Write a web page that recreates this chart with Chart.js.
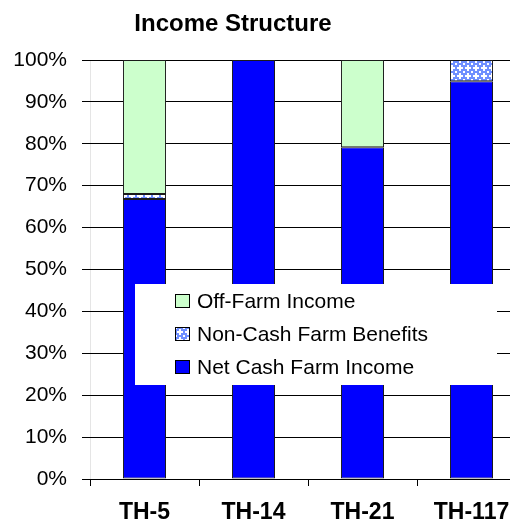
<!DOCTYPE html>
<html>
<head>
<meta charset="utf-8">
<script src="https://cdn.jsdelivr.net/npm/chart.js@4"></script>
<style>
  html, body { margin: 0; padding: 0; background: #fff; overflow: hidden; }
  #wrap { position: relative; width: 530px; height: 529px; }
</style>
</head>
<body>
<div id="wrap"><canvas id="chart"></canvas></div>
<script>
const title = "Income Structure";
const categories = ["TH-5", "TH-14", "TH-21", "TH-117"];
const netCashFarmIncome = [66.8, 100, 79.2, 94.9];
const nonCashFarmBenefits = [1.2, 0, 0, 5.1];
const offFarmIncome = [32, 0, 20.8, 0];
const seriesNames = ["Net Cash Farm Income", "Non-Cash Farm Benefits", "Off-Farm Income"];

// legend box inside the plot
const legendBox = { x: 135, y: 284, w: 362, h: 101 };

// little blue/white confetti tile for the non-cash series
function makePattern() {
  var c = document.createElement("canvas");
  c.width = 8; c.height = 8;
  var p = c.getContext("2d");
  p.fillStyle = "#6f8fff";
  p.fillRect(0, 0, 8, 8);
  p.fillStyle = "#ffffff";
  p.fillRect(3, 1, 2, 6);
  p.fillRect(1, 3, 6, 2);
  p.fillRect(0, 0, 1, 1);
  p.fillRect(7, 7, 1, 1);
  p.fillRect(7, 0, 1, 1);
  p.fillRect(0, 7, 1, 1);
  return p.createPattern(c, "repeat");
}
var confetti = makePattern();

var FONT = "'Liberation Sans', Arial, sans-serif";

var titlePlugin = {
  id: "sheetTitle",
  afterDraw: function (chart) {
    var ctx = chart.ctx;
    ctx.save();
    ctx.font = "bold 24px " + FONT;
    ctx.fillStyle = "#000";
    ctx.textAlign = "center";
    ctx.textBaseline = "alphabetic";
    ctx.fillText(title, 233, 31);
    ctx.restore();
  }
};

// horizontal grid lines as 1px fills in the gaps between bars and around the legend box
var gridPlugin = {
  id: "hGrid",
  afterDraw: function (chart) {
    var ctx = chart.ctx, area = chart.chartArea, y = chart.scales.y;
    var bars = chart.getDatasetMeta(0).data.map(function (b) {
      return [b.x - b.width / 2, b.x + b.width / 2];
    });
    ctx.save();
    ctx.globalAlpha = 1;
    ctx.globalCompositeOperation = "source-over";
    ctx.fillStyle = "#000";
    y.ticks.forEach(function (t) {
      var py = Math.round(y.getPixelForValue(t.value) - 0.5);
      var gaps = [];
      var start = area.left;
      bars.forEach(function (b) {
        gaps.push([start, b[0]]);
        start = b[1];
      });
      gaps.push([start, area.right]);
      var inBox = py > legendBox.y && py < legendBox.y + legendBox.h;
      gaps.forEach(function (g) {
        var a = g[0], b = g[1];
        if (inBox) {
          if (a < legendBox.x && b > legendBox.x) b = legendBox.x;
          else if (a >= legendBox.x && b <= legendBox.x + legendBox.w) return;
          else if (a < legendBox.x + legendBox.w && b > legendBox.x + legendBox.w) a = legendBox.x + legendBox.w;
        }
        a = Math.round(a); b = Math.round(b);
        if (b <= a) return;
        ctx.fillRect(a, py, b - a, 1);
      });
    });
    ctx.restore();
  }
};

var legendPlugin = {
  id: "boxLegend",
  afterDatasetsDraw: function (chart) {
    var ctx = chart.ctx;
    ctx.save();
    ctx.fillStyle = "#fff";
    ctx.fillRect(legendBox.x, legendBox.y, legendBox.w, legendBox.h);
    ctx.font = "21px " + FONT;
    ctx.textBaseline = "middle";
    ctx.textAlign = "left";
    var ds = chart.data.datasets.slice().reverse();
    ds.forEach(function (d, i) {
      var y = 301 + i * 33;
      ctx.fillStyle = "#000";
      ctx.fillRect(175, y - 7, 15, 14);
      ctx.fillStyle = d.backgroundColor;
      ctx.fillRect(176, y - 6, 13, 12);
      ctx.fillStyle = "#000";
      ctx.fillText(d.label, 197, y + 1);
    });
    ctx.restore();
  }
};

var ctx = document.getElementById("chart").getContext("2d");
var myChart = new Chart(ctx, {
  type: "bar",
  data: {
    labels: categories,
    datasets: [
      { label: seriesNames[0], data: netCashFarmIncome, backgroundColor: "#0000ff" },
      { label: seriesNames[1], data: nonCashFarmBenefits, backgroundColor: confetti },
      { label: seriesNames[2], data: offFarmIncome, backgroundColor: "#ccffcc" }
    ]
  },
  options: {
    responsive: true,
    maintainAspectRatio: false,
    animation: false,
    layout: { padding: { top: 60, right: 4, bottom: 2, left: 0 } },
    datasets: {
      bar: {
        barPercentage: 0.395,
        categoryPercentage: 1,
        borderColor: "#1a1a1a",
        borderWidth: 1,
        borderSkipped: false
      }
    },
    plugins: {
      legend: { display: false },
      title: { display: false },
      tooltip: { enabled: false }
    },
    scales: {
      x: {
        stacked: true,
        afterFit: function (s) { s.height = 48; },
        grid: { offset: true, drawOnChartArea: false, tickLength: 7, color: "#000" },
        border: { color: "#000" },
        ticks: { color: "#000", padding: 13, maxRotation: 0, font: { family: FONT, size: 23, weight: "bold" } }
      },
      y: {
        stacked: true,
        min: 0,
        max: 100,
        afterFit: function (s) { s.width = 90; },
        grid: { color: "#000", tickLength: 8 },
        ticks: {
          stepSize: 10,
          color: "#000",
          padding: 15,
          font: { family: FONT, size: 21 },
          callback: function (v) { return v + "%"; }
        }
      }
    }
  },
  plugins: [gridPlugin, titlePlugin, legendPlugin]
});
</script>
</body>
</html>
